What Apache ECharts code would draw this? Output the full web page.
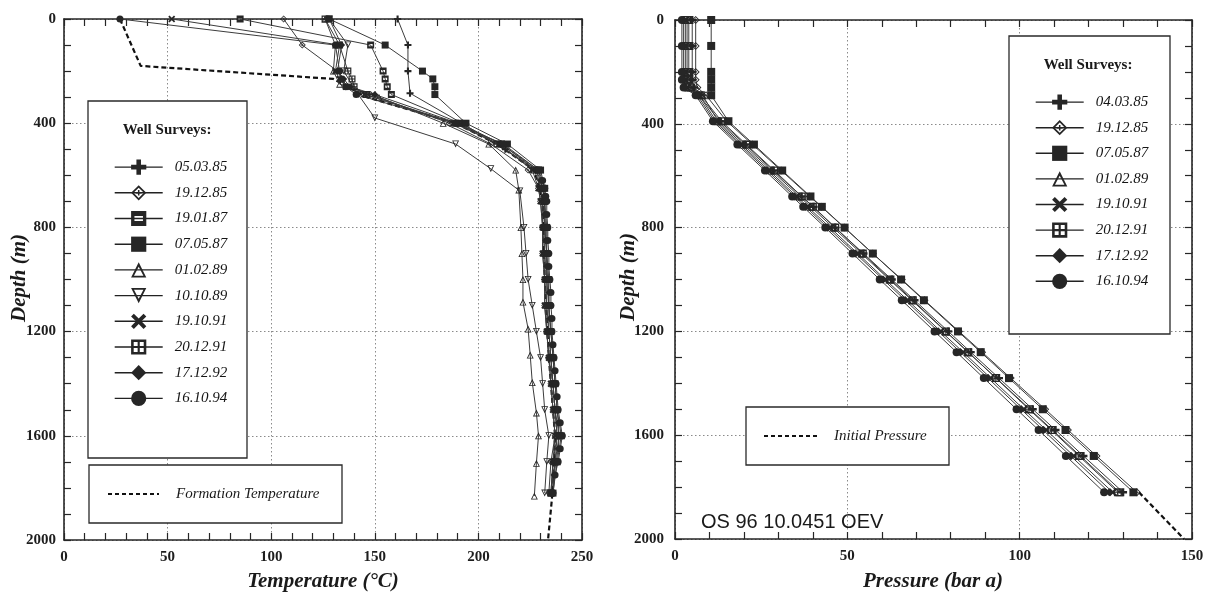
<!DOCTYPE html>
<html>
<head>
<meta charset="utf-8">
<script src="https://cdn.jsdelivr.net/npm/echarts@6.0.0/dist/echarts.min.js"></script>
<style>
  html, body { margin: 0; padding: 0; background: #fff; }
  #chart { width: 1211px; height: 592px; }
</style>
</head>
<body>
<div id="chart"></div>
<script>
// ---- Temperature surveys: depth (m) and temperature (°C) ----
const tDepth_050385 = [0, 100, 200, 285, 400, 500, 580, 650, 700, 800, 900, 1000, 1100, 1200, 1300, 1400, 1500, 1600, 1700, 1820];
const temp_050385   = [161, 166, 166, 167, 192, 213, 228, 230, 231, 231, 232, 232, 233, 233, 234, 236, 237, 238, 236, 235];

const tDepth_std = [0, 100, 200, 230, 260, 290, 400, 480, 580, 650, 700, 800, 900, 1000, 1100, 1200, 1300, 1400, 1500, 1600, 1700, 1820];
const temp_191285 = [106, 115, 132, 134, 137, 148, 186, 206, 224, 229, 230, 231, 231, 232, 232, 233, 234, 235, 236, 237, 235, 234];
const temp_190187 = [85, 148, 154, 155, 156, 158, 191, 211, 229, 231, 232, 232, 233, 233, 234, 234, 235, 236, 237, 239, 237, 235];
const temp_070587 = [128, 155, 173, 178, 179, 179, 194, 214, 230, 232, 232, 233, 233, 234, 234, 235, 236, 237, 238, 240, 238, 236];
const temp_191091 = [52, 133, 131, 133, 136, 145, 188, 210, 226, 229, 230, 231, 231, 232, 232, 233, 234, 235, 236, 237, 236, 235];
const temp_201291 = [126, 133, 137, 139, 140, 146, 189, 209, 227, 230, 231, 232, 232, 233, 233, 234, 235, 236, 237, 238, 237, 235];

const tDepth_fine = [0, 100, 200, 230, 260, 290, 400, 480, 580, 620, 650, 680, 700, 750, 800, 850, 900, 950, 1000,
                     1050, 1100, 1150, 1200, 1250, 1300, 1350, 1400, 1450, 1500, 1550, 1600, 1650, 1700, 1750, 1820];
const temp_171292 = [128, 134, 132, 135, 138, 150, 190, 211, 228, 230, 231, 231.5, 232, 232, 232.5, 232.5, 233, 233, 233.5,
                     234, 234, 234.5, 235, 235.5, 236, 236.5, 237, 237.5, 238, 238.5, 239, 238.5, 237.5, 236.5, 236];
const temp_161094 = [27, 131, 133, 134, 136, 141, 189, 212, 229, 231, 232, 232.5, 233, 233, 233.5, 233.5, 234, 234, 234.5,
                     235, 235, 235.5, 235.5, 236, 236.5, 237, 237.5, 238, 238.5, 239.5, 240.5, 239.5, 238.5, 237, 236];

const tDepth_010289 = [0, 100, 200, 250, 300, 400, 480, 580, 656, 800, 900, 1000, 1086, 1190, 1290, 1395, 1512, 1600, 1705, 1831];
const temp_010289   = [126, 131, 130, 133, 152, 183, 205, 218, 219.5, 220.5, 221, 221.5, 221.5, 224, 225, 226, 228, 229, 228, 227];

const tDepth_101089 = [0, 100, 200, 290, 380, 480, 575, 660, 800, 900, 1000, 1100, 1200, 1300, 1400, 1500, 1600, 1700, 1820];
const temp_101089   = [128, 137, 135, 142, 150, 189, 206, 220, 222, 223, 224, 226, 228, 230, 231, 232, 234, 233, 232];

const formDepth = [0, 180, 230, 300, 400, 480, 580, 700, 1000, 1300, 1600, 1840, 2000];
const formTemp  = [27, 37, 130, 146, 189, 209, 227, 231, 232, 234, 237, 235.5, 233.6];

// ---- Pressure surveys: depth (m) and pressure (bar a) ----
const pDepth = [0, 100, 200, 230, 260, 290, 390, 480, 580, 680, 720, 800, 900, 1000, 1080, 1200, 1280, 1380, 1500, 1580, 1680, 1820];
const pres_040385 = [5, 5, 5, 5, 5.5, 7, 13, 20.4, 28.5, 36.7, 40.2, 46.5, 54.7, 62.9, 69.5, 79.3, 85.8, 94.0, 103.8, 110.4, 118.5, 130];
const pres_191285 = [6, 6, 6, 6, 6.5, 9, 15, 22.5, 30.8, 39.1, 42.5, 49.1, 57.4, 65.8, 72.4, 82.4, 89.1, 97.4, 107.4, 114.0, 122.3, 134];
const pres_070587 = [10.5, 10.5, 10.5, 10.5, 10.5, 10.5, 15.5, 22.9, 31.1, 39.3, 42.6, 49.2, 57.4, 65.6, 72.2, 82.1, 88.7, 96.9, 106.7, 113.3, 121.5, 133];
const pres_010289 = [4, 4, 4, 4, 4.5, 8, 12.5, 19.8, 28.0, 36.1, 39.4, 45.9, 54.1, 62.2, 68.7, 78.5, 85.0, 93.2, 103.0, 109.5, 117.6, 129];
const pres_191091 = [3, 3, 3, 3, 3.5, 7, 12, 19.2, 27.3, 35.3, 38.5, 45.0, 53.0, 61.0, 67.5, 77.1, 83.6, 91.6, 101.2, 107.7, 115.7, 127];
const pres_201291 = [3.5, 3.5, 3.5, 3.5, 4, 7.5, 13.5, 20.7, 28.8, 36.8, 40.0, 46.5, 54.5, 62.5, 69.0, 78.6, 85.1, 93.1, 102.7, 109.2, 117.2, 128.5];
const pres_171292 = [2.5, 2.5, 2.5, 2.5, 3, 6.5, 11.5, 18.7, 26.7, 34.7, 37.9, 44.3, 52.4, 60.4, 66.8, 76.4, 82.8, 90.8, 100.4, 106.8, 114.8, 126];
const pres_161094 = [2, 2, 2, 2, 2.5, 6, 11, 18.1, 26.1, 34.0, 37.2, 43.6, 51.5, 59.4, 65.8, 75.3, 81.7, 89.6, 99.1, 105.5, 113.4, 124.5];

// initial pressure line below the deepest survey point
const initDepth = [1820, 2000];
const initPres  = [134.6, 147.7];

// ---- Axis ticks ----
const depthTicks = [0, 400, 800, 1200, 1600, 2000];
const tempTicks  = [0, 50, 100, 150, 200, 250];
const presTicks  = [0, 50, 100, 150];

// ---- Marker shapes ----
const SYM = {
  plus:      'path://M3.5,0H6.5V3.5H10V6.5H6.5V10H3.5V6.5H0V3.5H3.5Z',
  diamondX:  'path://M5,0L10,5L5,10L0,5Z M5,1.6L1.6,5L5,8.4L8.4,5Z M4.5,3.2H5.5V6.8H4.5Z M3.2,4.5H6.8V5.5H3.2Z',
  squareBar: 'path://M0,0H10V10H0Z M2.2,3.4V6.6H7.8V3.4Z',
  square:    'rect',
  triUp:     'path://M5,0L10,10H0Z M5,2.9L1.9,8.9H8.1Z',
  triDown:   'path://M0,0H10L5,10Z M1.9,1.1L5,7.1L8.1,1.1Z',
  cross:     'path://M0,1.8L1.8,0L5,3.2L8.2,0L10,1.8L6.8,5L10,8.2L8.2,10L5,6.8L1.8,10L0,8.2L3.2,5Z',
  gridSq:    'path://M0,0H10V10H0Z M1.7,1.7V4.3H4.3V1.7Z M5.7,1.7V4.3H8.3V1.7Z M1.7,5.7V8.3H4.3V5.7Z M5.7,5.7V8.3H8.3V5.7Z',
  diamond:   'diamond',
  circle:    'circle'
};

const tempSurveys = [
  { name: '05.03.85', sym: SYM.plus,      d: tDepth_050385, v: temp_050385 },
  { name: '19.12.85', sym: SYM.diamondX,  d: tDepth_std,    v: temp_191285 },
  { name: '19.01.87', sym: SYM.squareBar, d: tDepth_std,    v: temp_190187 },
  { name: '07.05.87', sym: SYM.square,    d: tDepth_std,    v: temp_070587 },
  { name: '01.02.89', sym: SYM.triUp,     d: tDepth_010289, v: temp_010289 },
  { name: '10.10.89', sym: SYM.triDown,   d: tDepth_101089, v: temp_101089 },
  { name: '19.10.91', sym: SYM.cross,     d: tDepth_std,    v: temp_191091 },
  { name: '20.12.91', sym: SYM.gridSq,    d: tDepth_std,    v: temp_201291 },
  { name: '17.12.92', sym: SYM.diamond,   d: tDepth_fine,   v: temp_171292 },
  { name: '16.10.94', sym: SYM.circle,    d: tDepth_fine,   v: temp_161094 }
];

const presSurveys = [
  { name: '04.03.85', sym: SYM.plus,     d: pDepth, v: pres_040385 },
  { name: '19.12.85', sym: SYM.diamondX, d: pDepth, v: pres_191285 },
  { name: '07.05.87', sym: SYM.square,   d: pDepth, v: pres_070587 },
  { name: '01.02.89', sym: SYM.triUp,    d: pDepth, v: pres_010289 },
  { name: '19.10.91', sym: SYM.cross,    d: pDepth, v: pres_191091 },
  { name: '20.12.91', sym: SYM.gridSq,   d: pDepth, v: pres_201291 },
  { name: '17.12.92', sym: SYM.diamond,  d: pDepth, v: pres_171292 },
  { name: '16.10.94', sym: SYM.circle,   d: pDepth, v: pres_161094 }
];

const INK = '#262626';
const LINE = '#3c3c3c';
const SERIF = '"Liberation Serif", "DejaVu Serif", serif';

function pairs(vals, depths) { return vals.map((v, i) => [v, depths[i]]); }

function surveySeries(s, xi, yi, size) {
  return {
    type: 'line', name: s.name, xAxisIndex: xi, yAxisIndex: yi,
    data: pairs(s.v, s.d),
    symbol: s.sym, symbolSize: size, showSymbol: true,
    lineStyle: { color: LINE, width: 1 },
    itemStyle: { color: INK },
    emphasis: { disabled: true }, silent: true, z: 3
  };
}

const tickLabel = { color: '#1e1e1e', fontFamily: SERIF, fontWeight: 'bold', fontSize: 15, formatter: v => String(v) };

function valueAxis(pos, gridIndex, min, max, interval, minorSplit, opts) {
  const primary = pos === 'bottom' || pos === 'left';
  return Object.assign({
    type: 'value', position: pos, gridIndex, min, max, interval,
    axisLine: { show: true, onZero: false, lineStyle: { color: INK, width: 1.6 } },
    axisTick: { show: true, inside: true, length: 7, lineStyle: { color: INK, width: 1.2 } },
    minorTick: { show: true, splitNumber: minorSplit, length: 7, lineStyle: { color: INK, width: 1.2 } },
    splitLine: { show: primary, lineStyle: { color: '#8a8a8a', type: [1.5, 2.5], width: 1 } },
    axisLabel: Object.assign({}, tickLabel, { show: primary })
  }, opts || {});
}

const series = [];
series.push({
  type: 'line', name: 'Formation Temperature', xAxisIndex: 0, yAxisIndex: 0,
  data: pairs(formTemp, formDepth), symbol: 'none',
  lineStyle: { color: '#111', width: 2.2, type: [5, 3] }, silent: true, z: 2
});
tempSurveys.forEach(s => series.push(surveySeries(s, 0, 0, 7)));
series.push({
  type: 'line', name: 'Initial Pressure', xAxisIndex: 2, yAxisIndex: 2,
  data: pairs(initPres, initDepth), symbol: 'none',
  lineStyle: { color: '#111', width: 2.2, type: [5, 3] }, silent: true, z: 2
});
presSurveys.forEach(s => series.push(surveySeries(s, 2, 2, 8)));

const legendText = { fontFamily: SERIF, fontStyle: 'italic', fontSize: 15, color: '#151515', padding: [0, 0, 0, 7] };

function box(x, y, w, h) {
  return { type: 'rect', shape: { x, y, width: w, height: h }, z: 5,
           style: { fill: '#fff', stroke: '#2a2a2a', lineWidth: 1.3 } };
}
function txt(x, y, text, font, align) {
  return { type: 'text', x, y, z: 10,
    style: { text, font, fill: '#1a1a1a', textAlign: align || 'left', textVerticalAlign: 'middle' } };
}

const chart = echarts.init(document.getElementById('chart'), null, { renderer: 'canvas' });
chart.setOption({
  animation: false,
  backgroundColor: '#fff',
  grid: [
    { left: 64, top: 19, width: 518, height: 521 },
    { left: 675, top: 20, width: 517, height: 519 }
  ],
  xAxis: [
    valueAxis('bottom', 0, tempTicks[0], tempTicks[tempTicks.length - 1], tempTicks[1] - tempTicks[0], 5, { axisLabel: Object.assign({}, tickLabel, { margin: 10 }) }),
    valueAxis('top', 0, tempTicks[0], tempTicks[tempTicks.length - 1], tempTicks[1] - tempTicks[0], 5),
    valueAxis('bottom', 1, presTicks[0], presTicks[presTicks.length - 1], presTicks[1] - presTicks[0], 5, { axisLabel: Object.assign({}, tickLabel, { margin: 10 }) }),
    valueAxis('top', 1, presTicks[0], presTicks[presTicks.length - 1], presTicks[1] - presTicks[0], 5)
  ],
  yAxis: [
    valueAxis('left', 0, depthTicks[0], depthTicks[depthTicks.length - 1], depthTicks[1] - depthTicks[0], 4, { inverse: true, axisLabel: Object.assign({}, tickLabel, { margin: 8 }) }),
    valueAxis('right', 0, depthTicks[0], depthTicks[depthTicks.length - 1], depthTicks[1] - depthTicks[0], 4, { inverse: true }),
    valueAxis('left', 1, depthTicks[0], depthTicks[depthTicks.length - 1], depthTicks[1] - depthTicks[0], 4, { inverse: true, axisLabel: Object.assign({}, tickLabel, { margin: 11 }) }),
    valueAxis('right', 1, depthTicks[0], depthTicks[depthTicks.length - 1], depthTicks[1] - depthTicks[0], 4, { inverse: true })
  ],
  legend: [
    {
      orient: 'vertical', left: 109, top: 154.5, z: 8,
      itemWidth: 48, itemHeight: 19, itemGap: 10.5,
      selectedMode: false, textStyle: legendText,
      lineStyle: { width: 1.4, color: '#222' },
      data: tempSurveys.map(s => s.name)
    },
    {
      orient: 'vertical', left: 1030, top: 89.5, z: 8,
      itemWidth: 48, itemHeight: 19, itemGap: 10.4,
      selectedMode: false, textStyle: legendText,
      lineStyle: { width: 1.4, color: '#222' },
      data: presSurveys.map(s => s.name)
    }
  ],
  graphic: [
    box(88, 101, 159, 357),
    txt(167, 130, 'Well Surveys:', 'bold 15px ' + SERIF, 'center'),
    box(89, 465, 253, 58),
    { type: 'line', z: 10, shape: { x1: 108, y1: 494, x2: 159, y2: 494 }, style: { stroke: '#111', lineWidth: 2, lineDash: [4, 3] } },
    txt(176, 494, 'Formation Temperature', 'italic 15px ' + SERIF),

    box(1009, 36, 161, 298),
    txt(1088, 65, 'Well Surveys:', 'bold 15px ' + SERIF, 'center'),
    box(746, 407, 203, 58),
    { type: 'line', z: 10, shape: { x1: 764, y1: 436, x2: 817, y2: 436 }, style: { stroke: '#111', lineWidth: 2, lineDash: [4, 3] } },
    txt(834, 436, 'Initial Pressure', 'italic 15px ' + SERIF),

    txt(701, 522, 'OS 96 10.0451 OEV', '20px "Liberation Sans", Arial, sans-serif'),

    // axis titles
    txt(323, 582, 'Temperature (°C)', 'bold italic 21px ' + SERIF, 'center'),
    txt(933, 582, 'Pressure (bar a)', 'bold italic 21px ' + SERIF, 'center'),
    { type: 'text', x: 20, y: 278, rotation: Math.PI / 2, z: 10,
      style: { text: 'Depth (m)', font: 'bold italic 21px ' + SERIF, fill: '#1a1a1a', textAlign: 'center', textVerticalAlign: 'middle' } },
    { type: 'text', x: 629, y: 277, rotation: Math.PI / 2, z: 10,
      style: { text: 'Depth (m)', font: 'bold italic 21px ' + SERIF, fill: '#1a1a1a', textAlign: 'center', textVerticalAlign: 'middle' } }
  ],
  series
});
</script>
</body>
</html>
